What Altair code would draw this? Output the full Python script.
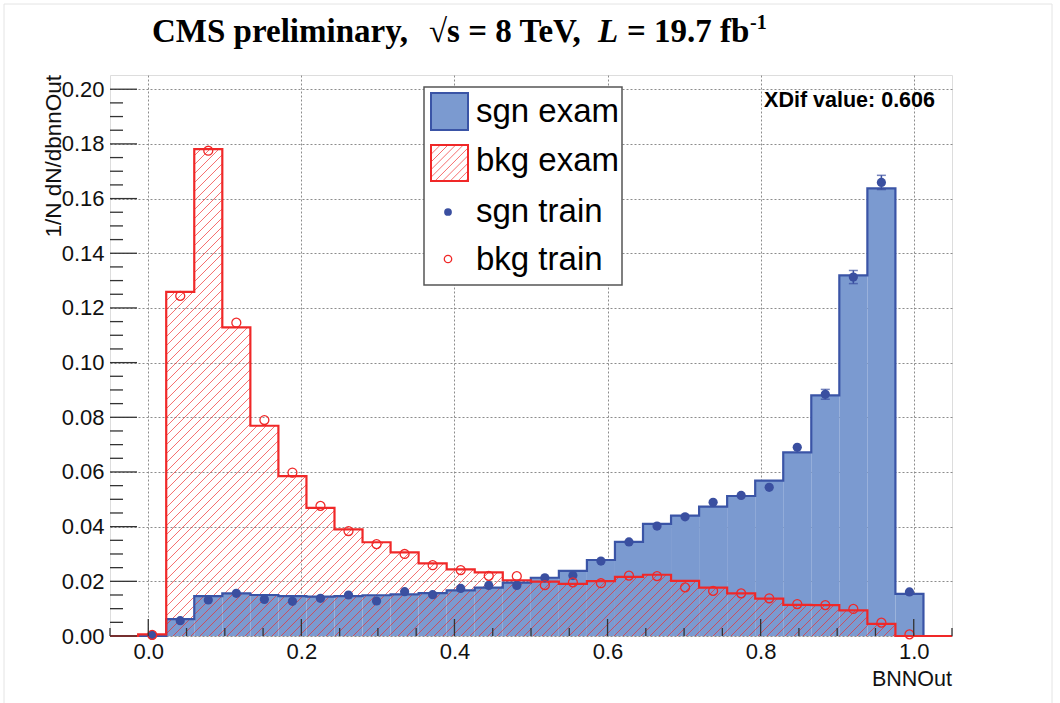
import math
import altair as alt
import pandas as pd

# ---------------- data ----------------
bin_lo = -0.0132
bin_w = 0.03664
n_bins = 28

sgn_exam = [0.0, 0.0062, 0.0146, 0.0156, 0.0150, 0.0146, 0.0144, 0.0146, 0.0149, 0.0152,
            0.0157, 0.0167, 0.0177, 0.0195, 0.0213, 0.0238, 0.0278, 0.0344, 0.0410, 0.0440,
            0.0473, 0.0512, 0.0568, 0.0672, 0.0880, 0.1319, 0.1637, 0.0154]
bkg_exam = [0.0006, 0.1259, 0.1781, 0.1129, 0.0769, 0.0585, 0.0469, 0.0390, 0.0343, 0.0306,
            0.0266, 0.0244, 0.0233, 0.0204, 0.0199, 0.0191, 0.0201, 0.0216, 0.0224, 0.0202,
            0.0177, 0.0156, 0.0137, 0.0114, 0.0113, 0.0094, 0.0044, 0.0]
sgn_train = [0.0003, 0.0056, 0.0132, 0.0156, 0.0134, 0.0127, 0.0138, 0.0150, 0.0128, 0.0162,
             0.0151, 0.0174, 0.0185, 0.0185, 0.0213, 0.0221, 0.0274, 0.0344, 0.0402, 0.0436,
             0.0489, 0.0514, 0.0544, 0.0690, 0.0884, 0.1313, 0.1659, 0.0161]
sgn_train_err = [0.0002, 0.0005, 0.0006, 0.0006, 0.0006, 0.0006, 0.0006, 0.0006, 0.0006, 0.0006,
                 0.0006, 0.0006, 0.0007, 0.0007, 0.0007, 0.0008, 0.0008, 0.0009, 0.0010, 0.0010,
                 0.0011, 0.0011, 0.0012, 0.0013, 0.0018, 0.0024, 0.0026, 0.0008]
bkg_train = [0.0004, 0.1244, 0.1775, 0.1146, 0.0790, 0.0598, 0.0476, 0.0384, 0.0336, 0.0300,
             0.0259, 0.0241, 0.0220, 0.0219, 0.0186, 0.0196, 0.0193, 0.0221, 0.0219, 0.0178,
             0.0165, 0.0156, 0.0138, 0.0117, 0.0113, 0.0099, 0.0049, 0.0006]

x_major = [0.0, 0.2, 0.4, 0.6, 0.8, 1.0]
x_minor = [-0.05, 0.05, 0.1, 0.15, 0.25, 0.3, 0.35, 0.45, 0.5, 0.55, 0.65, 0.7, 0.75,
           0.85, 0.9, 0.95, 1.05]
y_major = [0.00, 0.02, 0.04, 0.06, 0.08, 0.10, 0.12, 0.14, 0.16, 0.18, 0.20]
y_minor = [0.005, 0.01, 0.015, 0.025, 0.03, 0.035, 0.045, 0.05, 0.055, 0.065, 0.07, 0.075,
           0.085, 0.09, 0.095, 0.105, 0.11, 0.115, 0.125, 0.13, 0.135, 0.145, 0.15, 0.155,
           0.165, 0.17, 0.175, 0.185, 0.19, 0.195]

legend_labels = ["sgn exam", "bkg exam", "sgn train", "bkg train"]
xdif_text = "XDif value: 0.606"
x_title = "BNNOut"
y_title = "1/N dN/dbnnOut"

# ---------------- layout / style ----------------
W, H = 842, 561
XMIN, XMAX = -0.05, 1.05
YMIN, YMAX = 0.0, 0.2052
BLUE_FILL = "#7b9ad0"
BLUE_LINE = "#3a54a6"
BLUE_DOT = "#3a4fa0"
RED = "#f02828"
FONT = "Liberation Sans"

xs = alt.Scale(domain=[XMIN, XMAX], nice=False, zero=False)
ys = alt.Scale(domain=[YMIN, YMAX], nice=False, zero=False)

x_axis = alt.Axis(values=x_major, format=".1f", grid=True, ticks=False, domain=False,
                  labelFontSize=22, labelFont=FONT, labelColor="#111", labelPadding=5,
                  gridDash=[2, 2], gridColor="#8c8c8c", gridWidth=1, title=None)
y_axis = alt.Axis(values=y_major, format=".2f", grid=True, ticks=False, domain=False,
                  labelFontSize=22, labelFont=FONT, labelColor="#111", labelPadding=6,
                  gridDash=[2, 2], gridColor="#8c8c8c", gridWidth=1, title=None)


def X(field):
    return alt.X(field, type="quantitative", scale=xs, axis=x_axis)


def Y(field):
    return alt.Y(field, type="quantitative", scale=ys, axis=y_axis)


def inv_px(p):
    return XMIN + p / W * (XMAX - XMIN)


def px(x):
    return (x - XMIN) / (XMAX - XMIN) * W


def inv_py(p):  # pixels measured upward from the bottom of the plot
    return YMIN + p / H * (YMAX - YMIN)


def py(y):
    return (y - YMIN) / (YMAX - YMIN) * H


edges = [bin_lo + i * bin_w for i in range(n_bins + 1)]
centers = [edges[i] + bin_w / 2 for i in range(n_bins)]

hist = pd.DataFrame({"x0": edges[:-1], "x1": edges[1:], "sgn": sgn_exam,
                     "bkg": bkg_exam, "zero": [0.0] * n_bins})


def step_df(vals):
    xx = [XMIN] + edges[:-1] + [edges[-1], XMAX]
    yy = [0.0] + list(vals) + [0.0, 0.0]
    return pd.DataFrame({"x": xx, "y": yy})


# hatch (45 degree lines, clipped to each red bin)
D = 9.0
hatch_rows = []
for i in range(n_bins):
    h = bkg_exam[i]
    if h <= 0.001:
        continue
    x0p, x1p, hp = px(edges[i]), px(edges[i + 1]), py(h)
    k0 = math.floor((x0p - hp) / D) - 1
    k1 = math.ceil(x1p / D) + 1
    for k in range(k0, k1 + 1):
        c = k * D
        s = max(x0p, c)
        e = min(x1p, c + hp)
        if e - s > 0.4:
            hatch_rows.append({"x": inv_px(s), "y": inv_py(s - c),
                               "x2": inv_px(e), "y2": inv_py(e - c)})
hatch = pd.DataFrame(hatch_rows)

# legend hatch swatch (pixel box converted to data space)
lx0, lx1, ly_top, ly_bot = 321.0, 358.0, 70.0, 106.0
yb, yt = H - ly_bot, H - ly_top
leg_rows = []
for k in range(-200, 200):
    c = k * D * 0.85
    s = max(lx0, yb + c)
    e = min(lx1, yt + c)
    if e - s > 0.4:
        leg_rows.append({"x": inv_px(s), "y": inv_py(s - c), "x2": inv_px(e), "y2": inv_py(e - c)})
leg_hatch = pd.DataFrame(leg_rows)

pts = pd.DataFrame({"x": centers, "sgn": sgn_train, "bkg": bkg_train,
                    "lo": [v - e for v, e in zip(sgn_train, sgn_train_err)],
                    "hi": [v + e for v, e in zip(sgn_train, sgn_train_err)],
                    "err": sgn_train_err})

one = pd.DataFrame({"a": [0]})

# ---------------- layers ----------------
blue_fill = alt.Chart(hist).mark_rect(color=BLUE_FILL).encode(
    x=X("x0"), x2="x1", y=Y("sgn"), y2="zero")

red_hatch = alt.Chart(hatch).mark_rule(color=RED, strokeWidth=0.9, opacity=0.75).encode(
    x=X("x"), y=Y("y"), x2="x2", y2="y2")

blue_step = alt.Chart(step_df(sgn_exam)).mark_line(
    interpolate="step-after", color=BLUE_LINE, strokeWidth=2.2).encode(x=X("x"), y=Y("y"))
red_step = alt.Chart(step_df(bkg_exam)).mark_line(
    interpolate="step-after", color=RED, strokeWidth=2.2).encode(x=X("x"), y=Y("y"))

err_bar = alt.Chart(pts).mark_rule(color=BLUE_DOT, strokeWidth=1.5).encode(
    x=X("x"), y=Y("lo"), y2="hi")
err_caps = alt.Chart(pts).transform_filter("datum.err > 0.0017").transform_fold(
    ["lo", "hi"], as_=["k", "v"]).mark_tick(
    orient="horizontal", color=BLUE_DOT, size=9, thickness=1.5).encode(x=X("x"), y=Y("v:Q"))
blue_dots = alt.Chart(pts).mark_point(filled=True, shape="circle", size=85, color=BLUE_DOT,
                                      opacity=1).encode(x=X("x"), y=Y("sgn"))
red_circles = alt.Chart(pts).mark_point(filled=False, shape="circle", size=80, color=RED,
                                        strokeWidth=1.3, opacity=1).encode(x=X("x"), y=Y("bkg"))

# inner ticks (ROOT style)
yt_major = alt.Chart(pd.DataFrame({"v": y_major})).mark_rule(color="#333", strokeWidth=1.3).encode(
    y=Y("v"), x=alt.value(0), x2=alt.value(27))
yt_minor = alt.Chart(pd.DataFrame({"v": y_minor})).mark_rule(color="#333", strokeWidth=1.3).encode(
    y=Y("v"), x=alt.value(0), x2=alt.value(13))
xt_major = alt.Chart(pd.DataFrame({"v": x_major})).mark_rule(color="#333", strokeWidth=1.3).encode(
    x=X("v"), y=alt.value(H), y2=alt.value(H - 17))
xt_minor = alt.Chart(pd.DataFrame({"v": x_minor})).mark_rule(color="#333", strokeWidth=1.3).encode(
    x=X("v"), y=alt.value(H), y2=alt.value(H - 8))

# legend box
leg_box = alt.Chart(one).mark_rect(fill="white", stroke="#555", strokeWidth=1.5).encode(
    x=alt.value(314), x2=alt.value(512), y=alt.value(12), y2=alt.value(210))
leg_blue = alt.Chart(one).mark_rect(fill=BLUE_FILL, stroke=BLUE_LINE, strokeWidth=2).encode(
    x=alt.value(321), x2=alt.value(358), y=alt.value(18), y2=alt.value(55))
leg_red = alt.Chart(one).mark_rect(fill="white", stroke=RED, strokeWidth=2).encode(
    x=alt.value(lx0), x2=alt.value(lx1), y=alt.value(ly_top), y2=alt.value(ly_bot))
leg_red_hatch = alt.Chart(leg_hatch).mark_rule(color=RED, strokeWidth=0.9, opacity=0.75).encode(
    x=X("x"), y=Y("y"), x2="x2", y2="y2")
leg_dot = alt.Chart(one).mark_point(filled=True, shape="circle", size=60, color=BLUE_DOT,
                                    opacity=1).encode(x=alt.value(338), y=alt.value(137))
leg_circ = alt.Chart(one).mark_point(filled=False, shape="circle", size=55, color=RED,
                                     strokeWidth=1.3, opacity=1).encode(x=alt.value(338), y=alt.value(184))
leg_text = alt.Chart(pd.DataFrame({"t": legend_labels, "yy": [37, 86, 137, 185]})).mark_text(
    align="left", baseline="middle", font=FONT, fontSize=33, color="#000").encode(
    text="t:N", x=alt.value(366), y=alt.Y("yy:Q", scale=None))

xdif = alt.Chart(one).mark_text(align="right", baseline="middle", font=FONT, fontSize=21.5,
                                fontWeight="bold", color="#000").encode(
    text=alt.value(xdif_text), x=alt.value(825), y=alt.value(26))

xtitle = alt.Chart(one).mark_text(align="right", baseline="middle", font=FONT, fontSize=21.5,
                                  color="#111").encode(
    text=alt.value(x_title), x=alt.value(W), y=alt.value(605))
ytitle = alt.Chart(one).mark_text(align="right", baseline="middle", font=FONT, fontSize=22.5,
                                  angle=270, color="#111").encode(
    text=alt.value(y_title), x=alt.value(-56), y=alt.value(0))

# title (ROOT TLatex style)
TFONT = "Liberation Serif"
TY = -33
t1 = alt.Chart(one).mark_text(align="left", baseline="alphabetic", font=TFONT, fontSize=33,
                              fontWeight="bold", color="#000").encode(
    text=alt.value("CMS preliminary,"), x=alt.value(152 - 110), y=alt.value(TY))
t1b = alt.Chart(one).mark_text(align="left", baseline="alphabetic", font=TFONT, fontSize=33,
                               fontWeight="bold", color="#000").encode(
    text=alt.value("\u221as = 8 TeV,"), x=alt.value(429 - 110), y=alt.value(TY))
t2 = alt.Chart(one).mark_text(align="left", baseline="alphabetic", font=TFONT, fontSize=33,
                              fontWeight="bold", fontStyle="italic", color="#000").encode(
    text=alt.value("L"), x=alt.value(598 - 110), y=alt.value(TY))
t3 = alt.Chart(one).mark_text(align="left", baseline="alphabetic", font=TFONT, fontSize=33,
                              fontWeight="bold", color="#000").encode(
    text=alt.value("= 19.7 fb"), x=alt.value(627 - 110), y=alt.value(TY))
t4 = alt.Chart(one).mark_text(align="left", baseline="alphabetic", font=TFONT, fontSize=20,
                              fontWeight="bold", color="#000").encode(
    text=alt.value("-1"), x=alt.value(750 - 110), y=alt.value(TY - 13))

border = alt.Chart(one).mark_rect(fill=None, stroke="#e4e4e4", strokeWidth=1).encode(
    x=alt.value(-106), x2=alt.value(942), y=alt.value(-71), y2=alt.value(660))

chart = alt.layer(
    border, blue_fill, red_hatch, blue_step, red_step, err_bar, err_caps, blue_dots, red_circles,
    yt_major, yt_minor, xt_major, xt_minor,
    leg_box, leg_blue, leg_red, leg_red_hatch, leg_dot, leg_circ, leg_text,
    xdif, xtitle, ytitle, t1, t1b, t2, t3, t4,
).properties(
    width=W, height=H,
    autosize=alt.AutoSizeParams(type="none"),
    padding={"left": 110, "top": 75, "right": 108, "bottom": 67},
).configure_view(
    stroke="#222", strokeWidth=1.5
).configure(background="white")

chart.save("out.html", embed_options={"renderer": "svg", "actions": False})
